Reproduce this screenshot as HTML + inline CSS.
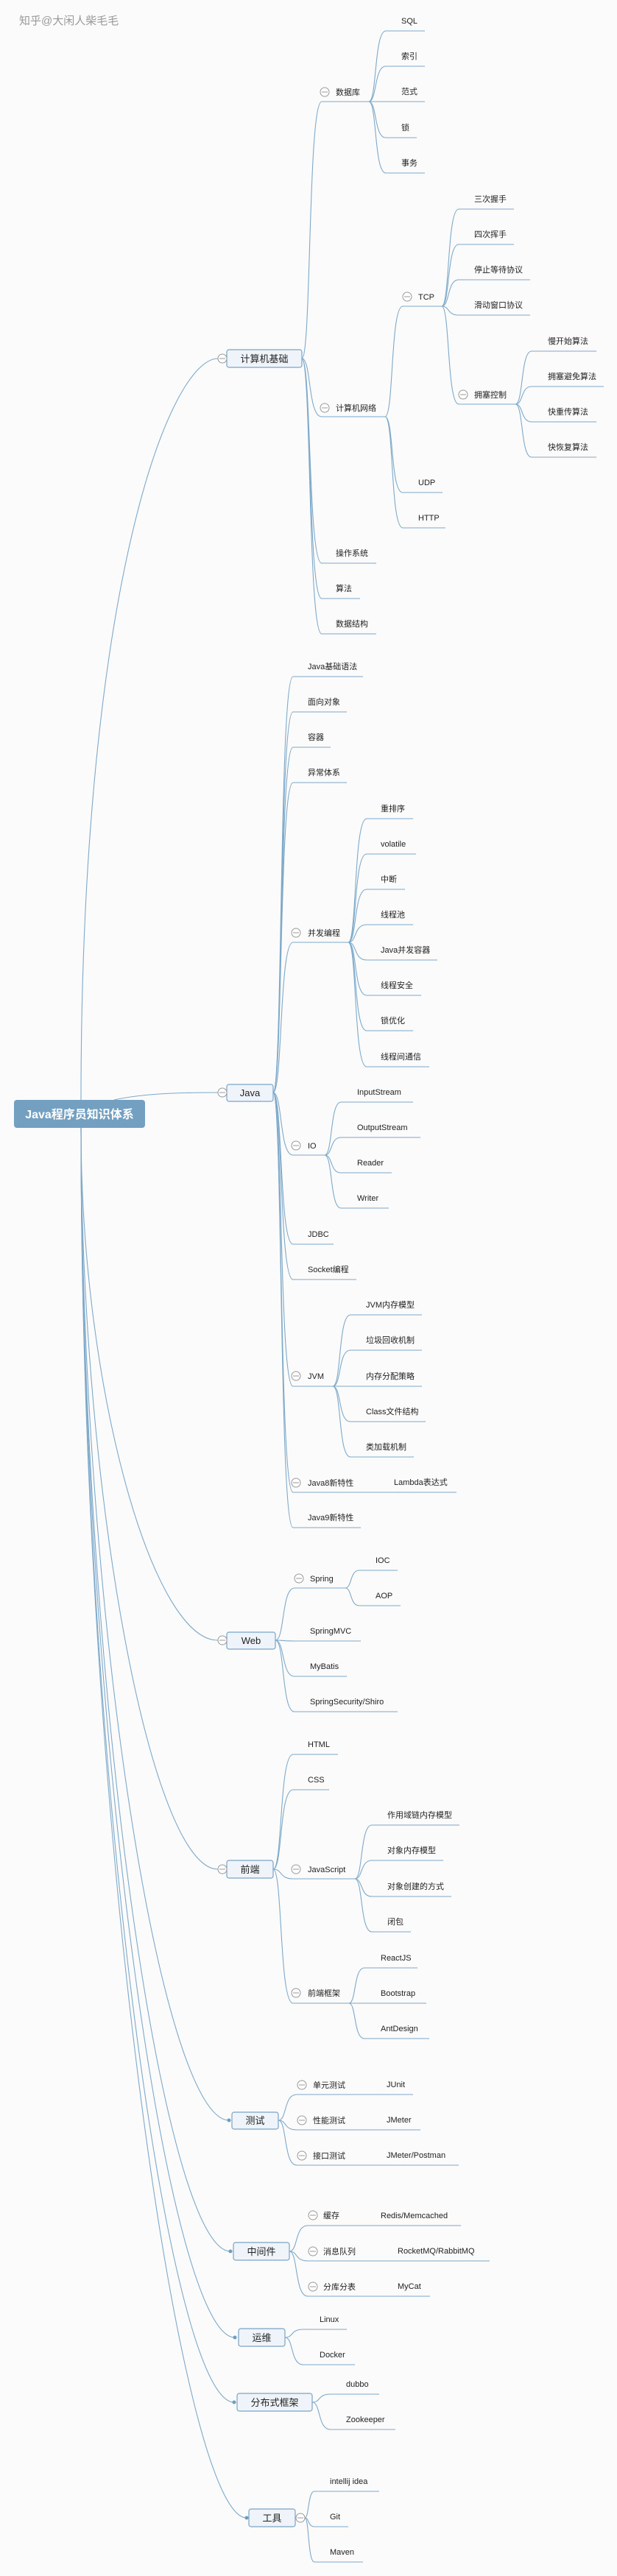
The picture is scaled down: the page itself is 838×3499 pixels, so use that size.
<!DOCTYPE html>
<html><head><meta charset="utf-8"><style>
html,body{margin:0;padding:0;background:#fbfbfb;}
svg{display:block;}
text{font-family:"Liberation Sans","Noto Sans CJK SC",sans-serif;font-size:11px;fill:#222;}
.c{font-size:13px;text-anchor:middle;}
.l{fill:none;stroke:#7ea9c9;stroke-width:1.1;}
.b{fill:#eef4f9;stroke:#7ba3c4;stroke-width:1.2;}
.o{fill:#fff;stroke:#999;stroke-width:1;}
.m{stroke:#999;stroke-width:1;}
.d{fill:#6f9dc2;}
</style></head><body>
<svg width="838" height="3499" viewBox="0 0 838 3499" xmlns="http://www.w3.org/2000/svg">
<text x="26" y="33" style="font-size:15px;fill:#999">知乎@大闲人柴毛毛</text>
<g class="l">
<path d="M110,1494 C110,800 230,487 296,487"/>
<path d="M155,1494 C200,1484 260,1484 296,1484"/>
<path d="M110,1532 C110,1880 206,2228 296,2228"/>
<path d="M110,1532 C110,2035 206,2539 296,2539"/>
<path d="M110,1532 C110,2206 221,2880 311,2880"/>
<path d="M110,1532 C110,2295 223,3058 313,3058"/>
<path d="M110,1532 C110,2353 229,3175 319,3175"/>
<path d="M110,1532 C110,2397 228,3263 318,3263"/>
<path d="M110,1532 C110,2476 245,3420 335,3420"/>
<path d="M410,487 C423,487 418,138 437,138 H501"/>
<path d="M410,487 C423,487 418,566 437,566 H523"/>
<path d="M410,487 C423,487 418,765 437,765 H511"/>
<path d="M410,487 C423,487 418,813 437,813 H489"/>
<path d="M410,487 C423,487 418,861 437,861 H511"/>
<path d="M501,138 C512,138 508,42 524,42 H577"/>
<path d="M501,138 C512,138 508,90 524,90 H577"/>
<path d="M501,138 C512,138 508,138 524,138 H577"/>
<path d="M501,138 C512,138 508,187 524,187 H566"/>
<path d="M501,138 C512,138 508,235 524,235 H577"/>
<path d="M523,566 C535,566 530,416 547,416 H600"/>
<path d="M523,566 C535,566 530,669 547,669 H601"/>
<path d="M523,566 C535,566 530,717 547,717 H605"/>
<path d="M600,416 C611,416 607,284 623,284 H698"/>
<path d="M600,416 C611,416 607,332 623,332 H698"/>
<path d="M600,416 C611,416 607,380 623,380 H720"/>
<path d="M600,416 C611,416 607,428 623,428 H720"/>
<path d="M600,416 C611,416 607,549 623,549 H700"/>
<path d="M700,549 C711,549 707,477 722,477 H810"/>
<path d="M700,549 C711,549 707,525 722,525 H820"/>
<path d="M700,549 C711,549 707,573 722,573 H810"/>
<path d="M700,549 C711,549 707,621 722,621 H810"/>
<path d="M371,1484 C384,1484 379,919 398,919 H493"/>
<path d="M371,1484 C384,1484 379,967 398,967 H471"/>
<path d="M371,1484 C384,1484 379,1015 398,1015 H449"/>
<path d="M371,1484 C384,1484 379,1063 398,1063 H471"/>
<path d="M371,1484 C384,1484 379,1280 398,1280 H473"/>
<path d="M371,1484 C384,1484 379,1569 398,1569 H441"/>
<path d="M371,1484 C384,1484 379,1690 398,1690 H453"/>
<path d="M371,1484 C384,1484 379,1738 398,1738 H484"/>
<path d="M371,1484 C384,1484 379,1883 398,1883 H452"/>
<path d="M371,1484 C384,1484 379,2027 398,2027 H620"/>
<path d="M371,1484 C384,1484 379,2075 398,2075 H490"/>
<path d="M473,1280 C485,1280 480,1112 498,1112 H561"/>
<path d="M473,1280 C485,1280 480,1160 498,1160 H565"/>
<path d="M473,1280 C485,1280 480,1208 498,1208 H550"/>
<path d="M473,1280 C485,1280 480,1256 498,1256 H561"/>
<path d="M473,1280 C485,1280 480,1304 498,1304 H594"/>
<path d="M473,1280 C485,1280 480,1352 498,1352 H572"/>
<path d="M473,1280 C485,1280 480,1400 498,1400 H561"/>
<path d="M473,1280 C485,1280 480,1449 498,1449 H583"/>
<path d="M441,1569 C452,1569 448,1497 463,1497 H561"/>
<path d="M441,1569 C452,1569 448,1545 463,1545 H571"/>
<path d="M441,1569 C452,1569 448,1593 463,1593 H532"/>
<path d="M441,1569 C452,1569 448,1641 463,1641 H528"/>
<path d="M452,1883 C464,1883 459,1786 476,1786 H573"/>
<path d="M452,1883 C464,1883 459,1834 476,1834 H573"/>
<path d="M452,1883 C464,1883 459,1883 476,1883 H573"/>
<path d="M452,1883 C464,1883 459,1931 476,1931 H578"/>
<path d="M452,1883 C464,1883 459,1979 476,1979 H562"/>
<path d="M374,2228 C387,2228 382,2157 400,2157 H469"/>
<path d="M374,2228 C387,2228 382,2229 400,2229 H490"/>
<path d="M374,2228 C387,2228 382,2277 400,2277 H471"/>
<path d="M374,2228 C387,2228 382,2325 400,2325 H540"/>
<path d="M469,2157 C478,2157 475,2133 488,2133 H540"/>
<path d="M469,2157 C478,2157 475,2181 488,2181 H544"/>
<path d="M371,2539 C384,2539 379,2383 398,2383 H459"/>
<path d="M371,2539 C384,2539 379,2431 398,2431 H447"/>
<path d="M371,2539 C384,2539 379,2552 398,2552 H482"/>
<path d="M371,2539 C384,2539 379,2721 398,2721 H474"/>
<path d="M482,2552 C493,2552 489,2479 505,2479 H624"/>
<path d="M482,2552 C493,2552 489,2527 505,2527 H602"/>
<path d="M482,2552 C493,2552 489,2576 505,2576 H613"/>
<path d="M482,2552 C493,2552 489,2624 505,2624 H558"/>
<path d="M474,2721 C484,2721 480,2673 495,2673 H567"/>
<path d="M474,2721 C484,2721 480,2721 495,2721 H579"/>
<path d="M474,2721 C484,2721 480,2769 495,2769 H583"/>
<path d="M378,2880 C390,2880 385,2845 403,2845 H561"/>
<path d="M378,2880 C390,2880 385,2893 403,2893 H571"/>
<path d="M378,2880 C390,2880 385,2941 403,2941 H623"/>
<path d="M393,3058 C405,3058 400,3023 418,3023 H626"/>
<path d="M393,3058 C405,3058 400,3071 418,3071 H665"/>
<path d="M393,3058 C405,3058 400,3119 418,3119 H584"/>
<path d="M387,3175 C399,3175 394,3164 412,3164 H471"/>
<path d="M387,3175 C399,3175 394,3212 412,3212 H482"/>
<path d="M424,3263 C436,3263 431,3252 449,3252 H515"/>
<path d="M424,3263 C436,3263 431,3300 449,3300 H537"/>
<path d="M414,3420 C420,3420 418,3384 427,3384 H515"/>
<path d="M414,3420 C420,3420 418,3432 427,3432 H473"/>
<path d="M414,3420 C420,3420 418,3480 427,3480 H493"/>
</g>
<rect x="19" y="1494" width="178" height="38" rx="4" fill="#73a0c0"/>
<text x="108" y="1519" class="c" style="font-size:16px;font-weight:bold;fill:#fff">Java程序员知识体系</text>
<rect class="b" x="308" y="475" width="102" height="24" rx="3"/><text class="c" x="359" y="492">计算机基础</text>
<rect class="b" x="308" y="1473" width="63" height="23" rx="3"/><text class="c" x="339.5" y="1489">Java</text>
<rect class="b" x="308" y="2217" width="66" height="23" rx="3"/><text class="c" x="341" y="2233">Web</text>
<rect class="b" x="308" y="2527" width="63" height="24" rx="3"/><text class="c" x="339.5" y="2544">前端</text>
<rect class="b" x="315" y="2869" width="63" height="23" rx="3"/><text class="c" x="346.5" y="2885">测试</text>
<rect class="b" x="317" y="3046" width="76" height="24" rx="3"/><text class="c" x="355" y="3063">中间件</text>
<rect class="b" x="324" y="3163" width="63" height="24" rx="3"/><text class="c" x="355.5" y="3180">运维</text>
<rect class="b" x="322" y="3251" width="102" height="24" rx="3"/><text class="c" x="373" y="3268">分布式框架</text>
<rect class="b" x="338" y="3408" width="63" height="24" rx="3"/><text class="c" x="369.5" y="3425">工具</text>
<circle class="d" cx="311" cy="2880" r="2.5"/><circle class="d" cx="313" cy="3058" r="2.5"/>
<circle class="d" cx="319" cy="3175" r="2.5"/><circle class="d" cx="318" cy="3263" r="2.5"/>
<circle class="d" cx="335" cy="3420" r="2.5"/>
<g>
<circle class="o" cx="302" cy="487" r="6"/><path class="m" d="M298,487H306"/>
<circle class="o" cx="302" cy="1484" r="6"/><path class="m" d="M298,1484H306"/>
<circle class="o" cx="302" cy="2228" r="6"/><path class="m" d="M298,2228H306"/>
<circle class="o" cx="302" cy="2539" r="6"/><path class="m" d="M298,2539H306"/>
<circle class="o" cx="408" cy="3420" r="6"/><path class="m" d="M404,3420H412"/>
<circle class="o" cx="441" cy="125" r="6"/><path class="m" d="M437,125H445"/>
<circle class="o" cx="441" cy="554" r="6"/><path class="m" d="M437,554H445"/>
<circle class="o" cx="553" cy="403" r="6"/><path class="m" d="M549,403H557"/>
<circle class="o" cx="629" cy="536" r="6"/><path class="m" d="M625,536H633"/>
<circle class="o" cx="402" cy="1267" r="6"/><path class="m" d="M398,1267H406"/>
<circle class="o" cx="402" cy="1556" r="6"/><path class="m" d="M398,1556H406"/>
<circle class="o" cx="402" cy="1869" r="6"/><path class="m" d="M398,1869H406"/>
<circle class="o" cx="402" cy="2014" r="6"/><path class="m" d="M398,2014H406"/>
<circle class="o" cx="406" cy="2144" r="6"/><path class="m" d="M402,2144H410"/>
<circle class="o" cx="402" cy="2539" r="6"/><path class="m" d="M398,2539H406"/>
<circle class="o" cx="402" cy="2707" r="6"/><path class="m" d="M398,2707H406"/>
<circle class="o" cx="410" cy="2832" r="6"/><path class="m" d="M406,2832H414"/>
<circle class="o" cx="410" cy="2880" r="6"/><path class="m" d="M406,2880H414"/>
<circle class="o" cx="410" cy="2928" r="6"/><path class="m" d="M406,2928H414"/>
<circle class="o" cx="425" cy="3009" r="6"/><path class="m" d="M421,3009H429"/>
<circle class="o" cx="425" cy="3058" r="6"/><path class="m" d="M421,3058H429"/>
<circle class="o" cx="425" cy="3106" r="6"/><path class="m" d="M421,3106H429"/>
</g>
<text x="456" y="129">数据库</text>
<text x="545" y="32">SQL</text><text x="545" y="80">索引</text><text x="545" y="128">范式</text><text x="545" y="177">锁</text><text x="545" y="225">事务</text>
<text x="456" y="558">计算机网络</text>
<text x="568" y="407">TCP</text><text x="568" y="659">UDP</text><text x="568" y="707">HTTP</text>
<text x="644" y="274">三次握手</text><text x="644" y="322">四次挥手</text><text x="644" y="370">停止等待协议</text><text x="644" y="418">滑动窗口协议</text>
<text x="644" y="540">拥塞控制</text>
<text x="744" y="467">慢开始算法</text><text x="744" y="515">拥塞避免算法</text><text x="744" y="563">快重传算法</text><text x="744" y="611">快恢复算法</text>
<text x="456" y="755">操作系统</text><text x="456" y="803">算法</text><text x="456" y="851">数据结构</text>
<text x="418" y="909">Java基础语法</text><text x="418" y="957">面向对象</text><text x="418" y="1005">容器</text><text x="418" y="1053">异常体系</text>
<text x="418" y="1271">并发编程</text>
<text x="517" y="1102">重排序</text><text x="517" y="1150">volatile</text><text x="517" y="1198">中断</text><text x="517" y="1246">线程池</text>
<text x="517" y="1294">Java并发容器</text><text x="517" y="1342">线程安全</text><text x="517" y="1390">锁优化</text><text x="517" y="1439">线程间通信</text>
<text x="418" y="1560">IO</text>
<text x="485" y="1487">InputStream</text><text x="485" y="1535">OutputStream</text><text x="485" y="1583">Reader</text><text x="485" y="1631">Writer</text>
<text x="418" y="1680">JDBC</text><text x="418" y="1728">Socket编程</text>
<text x="418" y="1873">JVM</text>
<text x="497" y="1776">JVM内存模型</text><text x="497" y="1824">垃圾回收机制</text><text x="497" y="1873">内存分配策略</text><text x="497" y="1921">Class文件结构</text><text x="497" y="1969">类加载机制</text>
<text x="418" y="2018">Java8新特性</text><text x="535" y="2017">Lambda表达式</text>
<text x="418" y="2065">Java9新特性</text>
<text x="421" y="2148">Spring</text><text x="510" y="2123">IOC</text><text x="510" y="2171">AOP</text>
<text x="421" y="2219">SpringMVC</text><text x="421" y="2267">MyBatis</text><text x="421" y="2315">SpringSecurity/Shiro</text>
<text x="418" y="2373">HTML</text><text x="418" y="2421">CSS</text>
<text x="418" y="2543">JavaScript</text>
<text x="526" y="2469">作用域链内存模型</text><text x="526" y="2517">对象内存模型</text><text x="526" y="2566">对象创建的方式</text><text x="526" y="2614">闭包</text>
<text x="418" y="2711">前端框架</text>
<text x="517" y="2663">ReactJS</text><text x="517" y="2711">Bootstrap</text><text x="517" y="2759">AntDesign</text>
<text x="425" y="2836">单元测试</text><text x="525" y="2835">JUnit</text>
<text x="425" y="2884">性能测试</text><text x="525" y="2883">JMeter</text>
<text x="425" y="2932">接口测试</text><text x="525" y="2931">JMeter/Postman</text>
<text x="439" y="3013">缓存</text><text x="517" y="3013">Redis/Memcached</text>
<text x="439" y="3062">消息队列</text><text x="540" y="3061">RocketMQ/RabbitMQ</text>
<text x="439" y="3110">分库分表</text><text x="540" y="3109">MyCat</text>
<text x="434" y="3154">Linux</text><text x="434" y="3202">Docker</text>
<text x="470" y="3242">dubbo</text><text x="470" y="3290">Zookeeper</text>
<text x="448" y="3374">intellij idea</text><text x="448" y="3422">Git</text><text x="448" y="3470">Maven</text>
</svg>
</body></html>
